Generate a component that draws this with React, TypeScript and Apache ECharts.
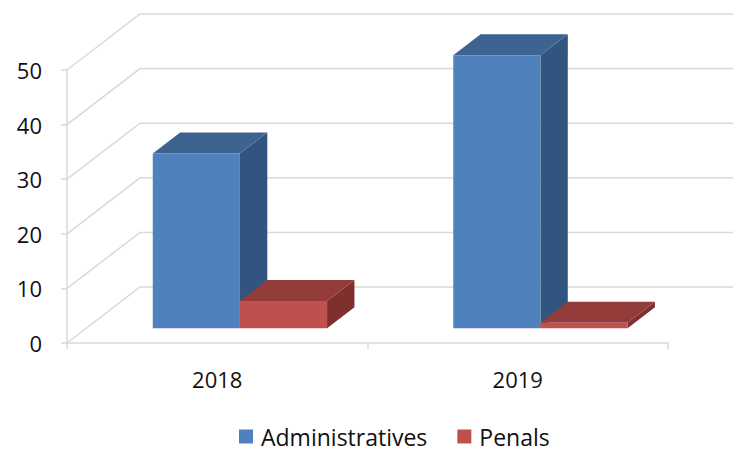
import React, { useEffect, useRef } from "react";
import * as echarts from "echarts";

// Chart data
const categories = ["2018", "2019"];
const seriesNames = ["Administratives", "Penals"];
const administratives = [32, 50];
const penals = [5, 1];
const gridValues = [0, 10, 20, 30, 40, 50];

// Oblique 3D projection: depth vector of the floor, and where the boxes sit in depth
const DEPTH_X = 73;
const DEPTH_Y = -56;
const BOX_FRONT = 0.2625;
const BOX_BACK = 0.6375;
const BAR_FRAC = 0.29;
const GROUP_SHIFT = 3.5;

const FONT = "'Open Sans', 'Noto Sans', sans-serif";

const faceColors = [
  { front: "#4F81BD", top: "#3D6491", side: "#32557F" },
  { front: "#C0504D", top: "#943C3A", side: "#7E302E" },
];

function boxRenderer(seriesIdx: number) {
  return (params: any, api: any) => {
    const idx = api.value(0);
    const val = api.value(1);
    const base = api.coord([idx, 0]);
    const top = api.coord([idx, val]);
    const band = api.size([1, 0])[0];
    const w = band * BAR_FRAC;
    const fx = DEPTH_X * BOX_FRONT;
    const fy = DEPTH_Y * BOX_FRONT;
    const bx = DEPTH_X * (BOX_BACK - BOX_FRONT);
    const by = DEPTH_Y * (BOX_BACK - BOX_FRONT);
    const L = base[0] - w + seriesIdx * w + GROUP_SHIFT + fx;
    const B = base[1] + fy;
    const T = top[1] + fy;
    const c = faceColors[seriesIdx];
    return {
      type: "group",
      children: [
        {
          type: "polygon",
          shape: {
            points: [
              [L + w, T],
              [L + w + bx, T + by],
              [L + w + bx, B + by],
              [L + w, B],
            ],
          },
          style: { fill: c.side },
        },
        {
          type: "polygon",
          shape: {
            points: [
              [L, T],
              [L + w, T],
              [L + w + bx, T + by],
              [L + bx, T + by],
            ],
          },
          style: { fill: c.top },
        },
        {
          type: "rect",
          shape: { x: L, y: T, width: w, height: B - T },
          style: { fill: c.front },
        },
      ],
    };
  };
}

function wallRenderer(params: any, api: any) {
  const cs = params.coordSys;
  const y = api.coord([0, api.value(1)])[1];
  return {
    type: "polyline",
    shape: {
      points: [
        [cs.x, y],
        [cs.x + DEPTH_X, y + DEPTH_Y],
        [cs.x + cs.width + DEPTH_X, y + DEPTH_Y],
      ],
    },
    style: { stroke: "#D9D9D9", lineWidth: 1.5, fill: null },
  };
}

export default function App() {
  const ref = useRef<HTMLDivElement>(null);

  useEffect(() => {
    document.body.style.margin = "0";
    if (!ref.current) return;
    const chart = echarts.init(ref.current, null, { renderer: "svg" });
    chart.setOption({
      animation: false,
      backgroundColor: "#FFFFFF",
      grid: {
        left: 67,
        right: 65,
        top: 70,
        bottom: 110,
        containLabel: false,
        outerBoundsMode: "none",
      },
      legend: {
        data: seriesNames,
        icon: "rect",
        left: 234,
        top: 420,
        itemWidth: 14,
        itemHeight: 14,
        itemGap: 30,
        textStyle: { fontSize: 23, fontFamily: FONT, color: "#111", padding: [0, 0, 0, 3] },
      },
      xAxis: {
        type: "category",
        data: categories,
        axisLine: { show: true, lineStyle: { color: "#D9D9D9", width: 1.5 } },
        axisTick: { show: true, length: 6, lineStyle: { color: "#D9D9D9", width: 1.5 } },
        axisLabel: { fontSize: 22, fontFamily: FONT, color: "#111", margin: 25 },
        splitLine: { show: false },
      },
      yAxis: {
        type: "value",
        min: 0,
        max: 50,
        interval: 10,
        axisLine: { show: true, lineStyle: { color: "#D9D9D9", width: 1.5 } },
        axisTick: { show: true, length: 6, lineStyle: { color: "#D9D9D9", width: 1.5 } },
        axisLabel: { fontSize: 22, fontFamily: FONT, color: "#111", margin: 25 },
        splitLine: { show: false },
      },
      series: [
        {
          name: "walls",
          type: "custom",
          silent: true,
          z: 1,
          renderItem: wallRenderer,
          data: gridValues.map((v) => [0, v]),
        },
        {
          name: seriesNames[0],
          type: "custom",
          z: 2,
          itemStyle: { color: faceColors[0].front },
          renderItem: boxRenderer(0),
          data: administratives.map((v, i) => [i, v]),
        },
        {
          name: seriesNames[1],
          type: "custom",
          z: 3,
          itemStyle: { color: faceColors[1].front },
          renderItem: boxRenderer(1),
          data: penals.map((v, i) => [i, v]),
        },
      ],
    });
    return () => chart.dispose();
  }, []);

  return (
    <div
      ref={ref}
      style={{ position: "fixed", left: 0, top: 0, width: 733, height: 453 }}
    />
  );
}
